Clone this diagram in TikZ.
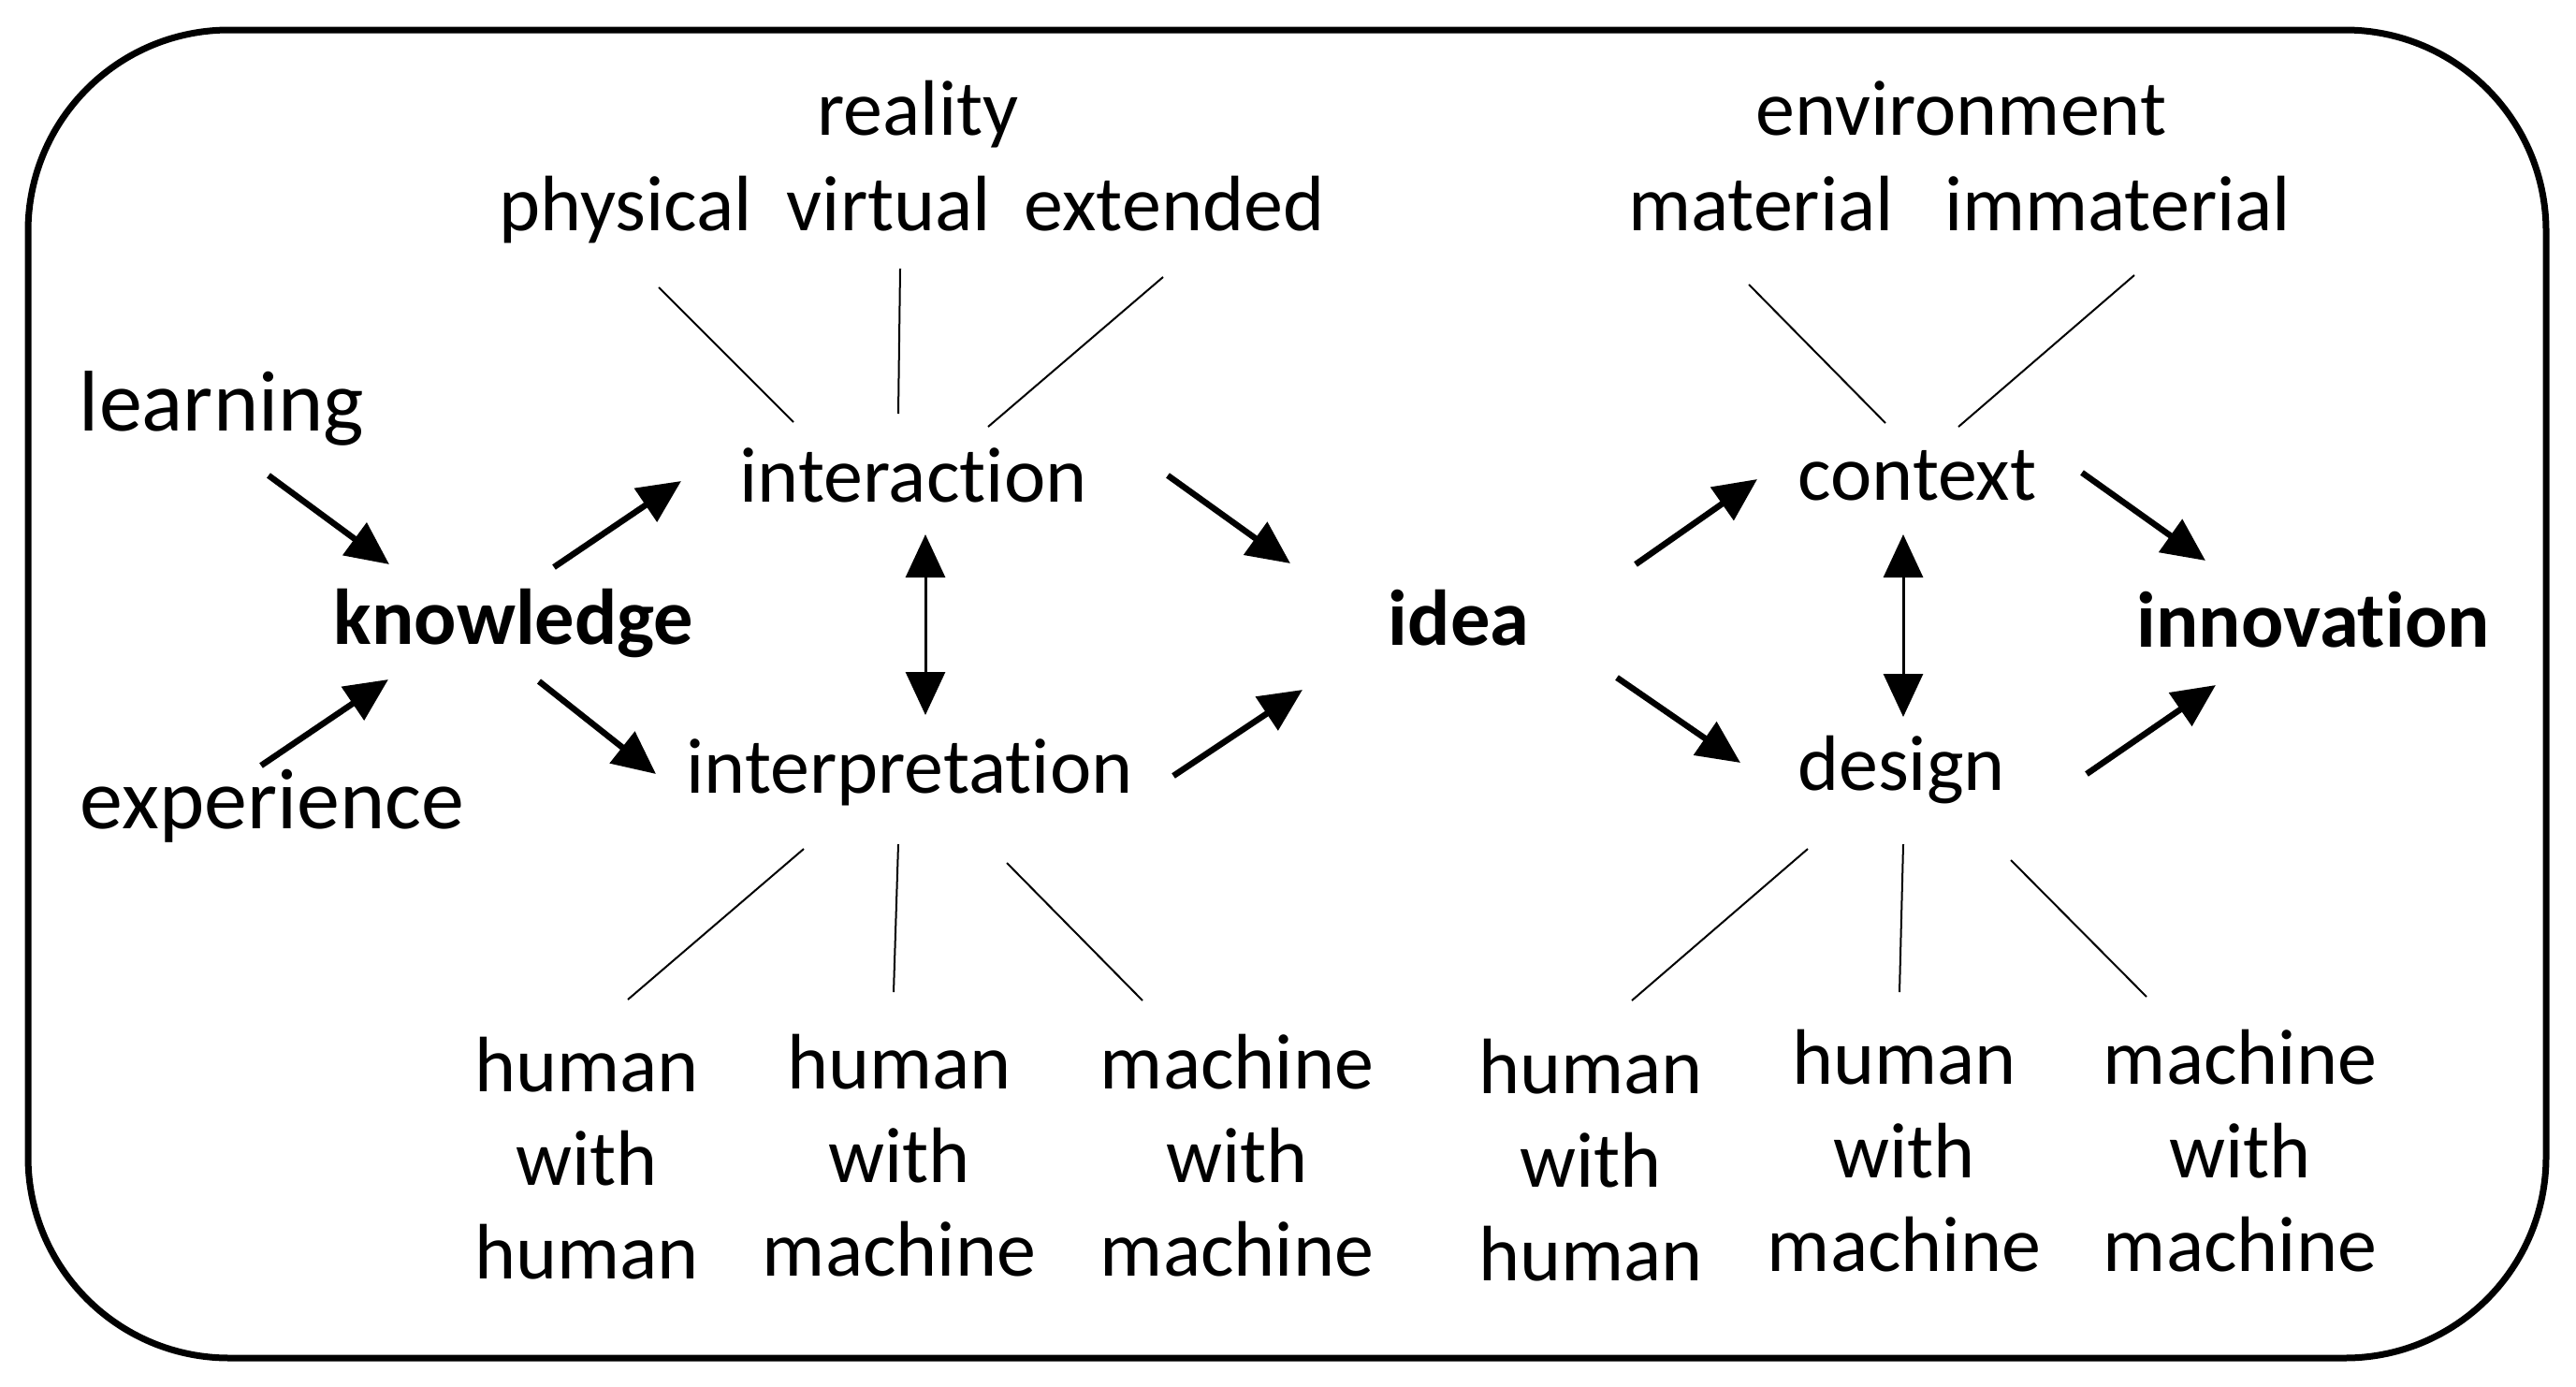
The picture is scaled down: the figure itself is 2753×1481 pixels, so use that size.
\documentclass[tikz,border=0pt]{standalone}
\usepackage{fontspec}
\setmainfont{Carlito}[Ligatures=NoCommon]
\usetikzlibrary{arrows.meta}
\begin{document}
\begin{tikzpicture}[x=1pt,y=-1pt,
  lab/.style={anchor=base, inner sep=0pt, font=\fontsize{84}{100}\selectfont},
  big/.style={lab, font=\fontsize{92}{100}\selectfont},
  key/.style={lab, font=\fontsize{84.5}{100}\selectfont\bfseries},
  arr/.style={line width=6.5pt, -{Triangle[length=46pt,width=42pt]}},
  dbl/.style={line width=3pt, {Triangle[length=46pt,width=42pt]}-{Triangle[length=46pt,width=42pt]}},
  tie/.style={line width=2pt}]
\useasboundingbox (0,0) rectangle (2753,1481);
\draw[line width=7pt, rounded corners=215pt] (30,32) rectangle (2721,1451);
% headers
\node[lab] (reality) at (981,144) {reality};
\node[lab] (physical) at (669,246) {physical};
\node[lab] (virtual) at (950,246) {virtual};
\node[lab] (extended) at (1255,246) {extended};
\node[lab] (environment) at (2096,144) {environment};
\node[lab] (material) at (1882,246) {material};
\node[lab] (immaterial) at (2263,246) {immaterial};
% main nodes
\node[big] (learning) at (237,460) {learning};
\node[key] (knowledge) at (549,688) {knowledge};
\node[big] (experience) at (291,885) {experience};
\node[lab] (interaction) at (976,536) {interaction};
\node[lab] (interpretation) at (972,847) {interpretation};
\node[key] (idea) at (1559,689) {idea};
\node[lab] (context) at (2049,534) {context};
\node[lab] (design) at (2032,844) {design};
\node[key] (innovation) at (2472,691) {innovation};
% stacks
\node[lab] (s1) at (627,1166) {\begin{tabular}[t]{@{}c@{}}human\\with\\human\end{tabular}};
\node[lab] (s2) at (961,1163) {\begin{tabular}[t]{@{}c@{}}human\\with\\machine\end{tabular}};
\node[lab] (s3) at (1322,1163) {\begin{tabular}[t]{@{}c@{}}machine\\with\\machine\end{tabular}};
\node[lab] (s4) at (1700,1168) {\begin{tabular}[t]{@{}c@{}}human\\with\\human\end{tabular}};
\node[lab] (s5) at (2035,1158) {\begin{tabular}[t]{@{}c@{}}human\\with\\machine\end{tabular}};
\node[lab] (s6) at (2394,1158) {\begin{tabular}[t]{@{}c@{}}machine\\with\\machine\end{tabular}};
% thin ties
\draw[tie] ([shift={(35,61)}]physical.base) -- ([shift={(-128,-85)}]interaction.base);
\draw[tie] ([shift={(12,41)}]virtual.base) -- ([shift={(-16,-94)}]interaction.base);
\draw[tie] ([shift={(-12,50)}]extended.base) -- ([shift={(80,-80)}]interaction.base);
\draw[tie] ([shift={(-13,58)}]material.base) -- ([shift={(-34,-82)}]context.base);
\draw[tie] ([shift={(18,48)}]immaterial.base) -- ([shift={(44,-78)}]context.base);
\draw[tie] ([shift={(-113,60)}]interpretation.base) -- ([shift={(44,-98)}]s1.base);
\draw[tie] ([shift={(-12,55)}]interpretation.base) -- ([shift={(-6,-103)}]s2.base);
\draw[tie] ([shift={(104,75)}]interpretation.base) -- ([shift={(-101,-94)}]s3.base);
\draw[tie] ([shift={(-100,63)}]design.base) -- ([shift={(44,-99)}]s4.base);
\draw[tie] ([shift={(2,58)}]design.base) -- ([shift={(-5,-98)}]s5.base);
\draw[tie] ([shift={(117,75)}]design.base) -- ([shift={(-100,-93)}]s6.base);
% arrows
\draw[arr] ([shift={(50,48)}]learning.base) -- ([shift={(-133,-85)}]knowledge.base);
\draw[arr] ([shift={(-12,-67)}]experience.base) -- ([shift={(-134,38)}]knowledge.base);
\draw[arr] ([shift={(43,-82)}]knowledge.base) -- ([shift={(-248,-22)}]interaction.base);
\draw[arr] ([shift={(27,40)}]knowledge.base) -- ([shift={(-271,-20)}]interpretation.base);
\draw[arr] ([shift={(272,-28)}]interaction.base) -- ([shift={(-180,-87)}]idea.base);
\draw[arr] ([shift={(282,-18)}]interpretation.base) -- ([shift={(-167,48)}]idea.base);
\draw[arr] ([shift={(189,-86)}]idea.base) -- ([shift={(-171,-22)}]context.base);
\draw[arr] ([shift={(169,35)}]idea.base) -- ([shift={(-172,-29)}]design.base);
\draw[arr] ([shift={(176,-29)}]context.base) -- ([shift={(-115,-92)}]innovation.base);
\draw[arr] ([shift={(198,-17)}]design.base) -- ([shift={(-104,41)}]innovation.base);
\draw[dbl] ([shift={(13,35)}]interaction.base) -- ([shift={(17,-83)}]interpretation.base);
\draw[dbl] ([shift={(-15,37)}]context.base) -- ([shift={(2,-78)}]design.base);
\end{tikzpicture}
\end{document}
